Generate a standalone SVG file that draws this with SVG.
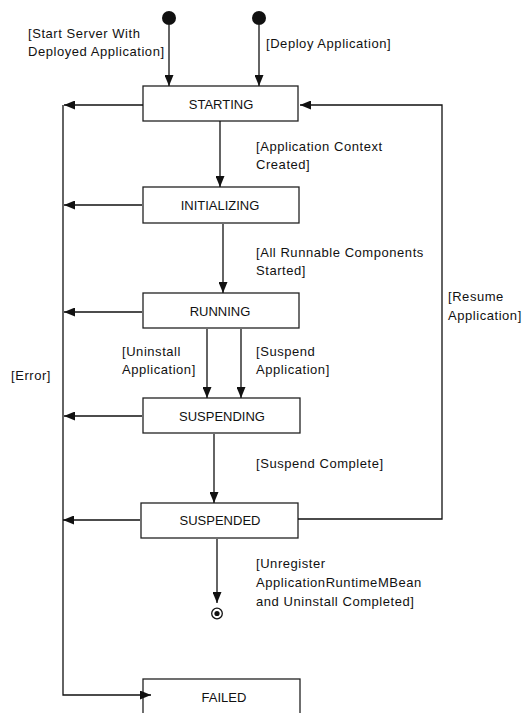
<svg xmlns="http://www.w3.org/2000/svg" width="522" height="713" viewBox="0 0 522 713">
<defs>
<marker id="arr" viewBox="0 0 11 9" refX="11" refY="4.5" markerWidth="11" markerHeight="9" markerUnits="userSpaceOnUse" orient="auto">
<path d="M0,0 L11,4.5 L0,9 z" fill="#111"/>
</marker>
<style>
.box{fill:#fff;stroke:#222;stroke-width:1.3}
.nl{font-family:"Liberation Sans",Arial,sans-serif;font-size:13px;fill:#111;text-anchor:middle}
.lb{font-family:"Liberation Sans",Arial,sans-serif;font-size:13px;fill:#111;letter-spacing:0.55px}
.c{fill:none;stroke:#111;stroke-width:1.3}
.ca{fill:none;stroke:#111;stroke-width:1.3;marker-end:url(#arr)}
</style>
</defs>
<rect width="522" height="713" fill="#fff"/>
<g id="initial1"><circle cx="169" cy="18" r="7" fill="#111"/></g>
<g id="initial2"><circle cx="259" cy="18" r="7" fill="#111"/></g>
<g id="starting"><rect class="box" x="143" y="86" width="155" height="35"/><text class="nl" x="221" y="109">STARTING</text></g>
<g id="initializing"><rect class="box" x="143" y="187" width="156" height="36"/><text class="nl" x="220" y="210">INITIALIZING</text></g>
<g id="running"><rect class="box" x="143" y="293" width="156" height="35"/><text class="nl" x="220" y="316">RUNNING</text></g>
<g id="suspending"><rect class="box" x="143" y="398" width="157" height="35"/><text class="nl" x="222" y="421">SUSPENDING</text></g>
<g id="suspended"><rect class="box" x="141" y="503" width="157" height="35"/><text class="nl" x="220" y="525">SUSPENDED</text></g>
<g id="failed"><rect class="box" x="143" y="679" width="157" height="50"/><text class="nl" x="224" y="702">FAILED</text></g>
<g id="final"><circle cx="217" cy="613.5" r="5.3" fill="#fff" stroke="#111" stroke-width="1.3"/><circle cx="217" cy="613.5" r="2.6" fill="#111"/></g>
<g id="connectors">
<path class="ca" d="M169,25 V86"/>
<path class="ca" d="M259,25 V86"/>
<path class="ca" d="M220,121 V187"/>
<path class="ca" d="M223,224 V293"/>
<path class="ca" d="M207,329 V398"/>
<path class="ca" d="M241,329 V398"/>
<path class="ca" d="M214,434 V503"/>
<path class="ca" d="M217,539 V603"/>
<path class="ca" d="M143,105 H64"/>
<path class="ca" d="M142,205 H64"/>
<path class="ca" d="M142,312 H64"/>
<path class="ca" d="M142,416 H64"/>
<path class="ca" d="M140,520 H63"/>
<path class="ca" d="M63,105 V695 H151"/>
<path class="ca" d="M298,519 H442 V105 H300"/>
</g>
<g id="labels">
<text class="lb" x="28" y="38">[Start Server With</text>
<text class="lb" x="28" y="56">Deployed Application]</text>
<text class="lb" x="266" y="48">[Deploy Application]</text>
<text class="lb" x="256" y="151">[Application Context</text>
<text class="lb" x="256" y="169">Created]</text>
<text class="lb" x="256" y="257">[All Runnable Components</text>
<text class="lb" x="256" y="275">Started]</text>
<text class="lb" x="448" y="301">[Resume</text>
<text class="lb" x="448" y="320">Application]</text>
<text class="lb" x="122" y="356">[Uninstall</text>
<text class="lb" x="122" y="374">Application]</text>
<text class="lb" x="256" y="356">[Suspend</text>
<text class="lb" x="256" y="374">Application]</text>
<text class="lb" x="11" y="380">[Error]</text>
<text class="lb" x="256" y="468">[Suspend Complete]</text>
<text class="lb" x="256" y="568">[Unregister</text>
<text class="lb" x="256" y="587">ApplicationRuntimeMBean</text>
<text class="lb" x="256" y="606">and Uninstall Completed]</text>
</g>
</svg>
